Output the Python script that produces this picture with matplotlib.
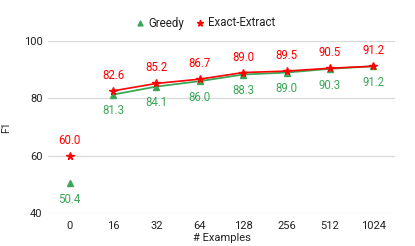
import numpy as np
import matplotlib.pyplot as plt

plt.rcParams['font.family'] = ['Roboto', 'DejaVu Sans']

# data
examples = ["0", "16", "32", "64", "128", "256", "512", "1024"]
greedy = [50.4, 81.3, 84.1, 86.0, 88.3, 89.0, 90.3, 91.2]
exact = [60.0, 82.6, 85.2, 86.7, 89.0, 89.5, 90.5, 91.2]

green = "#3aa757"
red = "#ff0000"

fig = plt.figure(figsize=(4.15, 2.46), dpi=100)
ax = fig.add_axes([48 / 415, 1 - 213 / 246, 347 / 415, 172 / 246])

x = np.arange(len(examples))

# the zero-shot point stands alone, the rest are connected
ax.plot(x[1:], greedy[1:], color=green, linewidth=1.3, marker="^", markersize=4, zorder=3)
ax.plot(x[:1], greedy[:1], color=green, linestyle="none", marker="^", markersize=4, zorder=3)
ax.plot(x[1:], exact[1:], color=red, linewidth=1.2, marker="*", markersize=5.5, zorder=4)
ax.plot(x[:1], exact[:1], color=red, linestyle="none", marker="*", markersize=5.5, zorder=4)

for xi, g, e in zip(x, greedy, exact):
    ax.annotate(f"{e:.1f}", (xi, e), xytext=(0, 6.5), textcoords="offset points",
                ha="center", va="bottom", color=red, fontsize=8.3)
    ax.annotate(f"{g:.1f}", (xi, g), xytext=(0, -7), textcoords="offset points",
                ha="center", va="top", color=green, fontsize=8.3)

ax.set_xlim(-0.5, len(examples) - 0.5)
ax.set_ylim(40, 100)
ax.set_yticks([40, 60, 80, 100])
ax.set_xticks(x)
ax.set_xticklabels(examples)
ax.grid(axis="y", color="#d9d9d9", linewidth=0.9)
ax.set_axisbelow(True)
for s in ax.spines.values():
    s.set_visible(False)
ax.tick_params(axis="y", length=0, labelsize=8, colors="#222222", pad=4)
ax.tick_params(axis="x", length=0, labelsize=8, colors="#222222", pad=6)
ax.set_xlabel("# Examples", fontsize=8, color="#222222", labelpad=1.5)
ax.set_ylabel("F1", fontsize=7.5, color="#222222", labelpad=9)

# legend
h1 = ax.scatter([], [], marker="^", color=green, s=12)
h2 = ax.scatter([], [], marker="*", color=red, s=20)
fig.legend([h1, h2], ["Greedy", "Exact-Extract"], loc="center", bbox_to_anchor=(0.494, 1 - 23 / 246),
           ncol=2, frameon=False, fontsize=8.3, handletextpad=0.2, columnspacing=0.9,
           handlelength=1.0, labelcolor="#222222")

fig.savefig("out.png", dpi=100)
